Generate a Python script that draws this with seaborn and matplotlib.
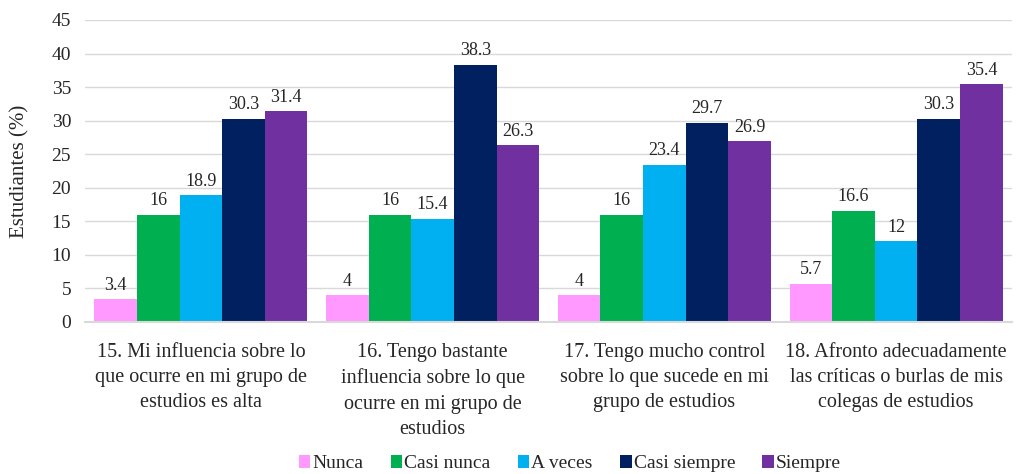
import pandas as pd
import numpy as np
import seaborn as sns
import matplotlib.pyplot as plt

# data
items = ["15. Mi influencia sobre lo\nque ocurre en mi grupo de\nestudios es alta",
         "16. Tengo bastante\ninfluencia sobre lo que\nocurre en mi grupo de\nestudios",
         "17. Tengo mucho control\nsobre lo que sucede en mi\ngrupo de estudios",
         "18. Afronto adecuadamente\nlas críticas o burlas de mis\ncolegas de estudios"]
answers = ["Nunca", "Casi nunca", "A veces", "Casi siempre", "Siempre"]
nunca = [3.4, 4, 4, 5.7]
casi_nunca = [16, 16, 16, 16.6]
a_veces = [18.9, 15.4, 23.4, 12]
casi_siempre = [30.3, 38.3, 29.7, 30.3]
siempre = [31.4, 26.3, 26.9, 35.4]
colors = ["#FF99FF", "#00B050", "#00B0F0", "#002060", "#7030A0"]

series = [nunca, casi_nunca, a_veces, casi_siempre, siempre]
rows = []
for ans, vals in zip(answers, series):
    for it, v in zip(items, vals):
        rows.append({"item": it, "respuesta": ans, "valor": v})
df = pd.DataFrame(rows)

sns.set_style("white")
plt.rcParams['font.family'] = 'serif'
plt.rcParams['font.serif'] = ['Liberation Serif', 'Times New Roman', 'DejaVu Serif']

fig = plt.figure(figsize=(10.27, 4.74), dpi=100)
ax = fig.add_axes([85 / 1027, 1 - 322 / 474, 927 / 1027, 302 / 474])

sns.barplot(data=df, x="item", y="valor", hue="respuesta", order=items,
            hue_order=answers, palette=colors, width=0.92, gap=0,
            saturation=1, edgecolor="none", ax=ax)

for cont in ax.containers:
    ax.bar_label(cont, labels=[f"{v:g}" for v in cont.datavalues],
                 padding=4, fontsize=13, color="#262626")

ax.set_ylim(0, 45)
ax.set_yticks(np.arange(0, 46, 5))
ax.set_xlim(-0.5, 3.5)
ax.yaxis.grid(True, color="#D9D9D9", linewidth=1)
ax.set_axisbelow(True)
for s in ["top", "right", "left"]:
    ax.spines[s].set_visible(False)
ax.spines["bottom"].set_color("#D9D9D9")
ax.spines["bottom"].set_linewidth(1.5)
ax.tick_params(axis="both", length=0, labelsize=14, colors="#262626")
ax.tick_params(axis="x", pad=15, labelsize=14.5)
ax.tick_params(axis="y", pad=10)
for lbl in ax.get_xticklabels():
    lbl.set_linespacing(1.45)
ax.set_xlabel("")
ax.set_ylabel("Estudiantes (%)", fontsize=15, color="#262626")
ax.yaxis.set_label_coords(-0.06, 0.5)

leg = ax.legend(loc="center", bbox_to_anchor=(0.523, -0.47), ncol=5,
                frameon=False, fontsize=14, handlelength=0.6,
                handleheight=0.6, handletextpad=0.1, columnspacing=1.4,
                borderpad=0)
for t in leg.get_texts():
    t.set_color("#262626")

fig.savefig("out.png", dpi=100)
